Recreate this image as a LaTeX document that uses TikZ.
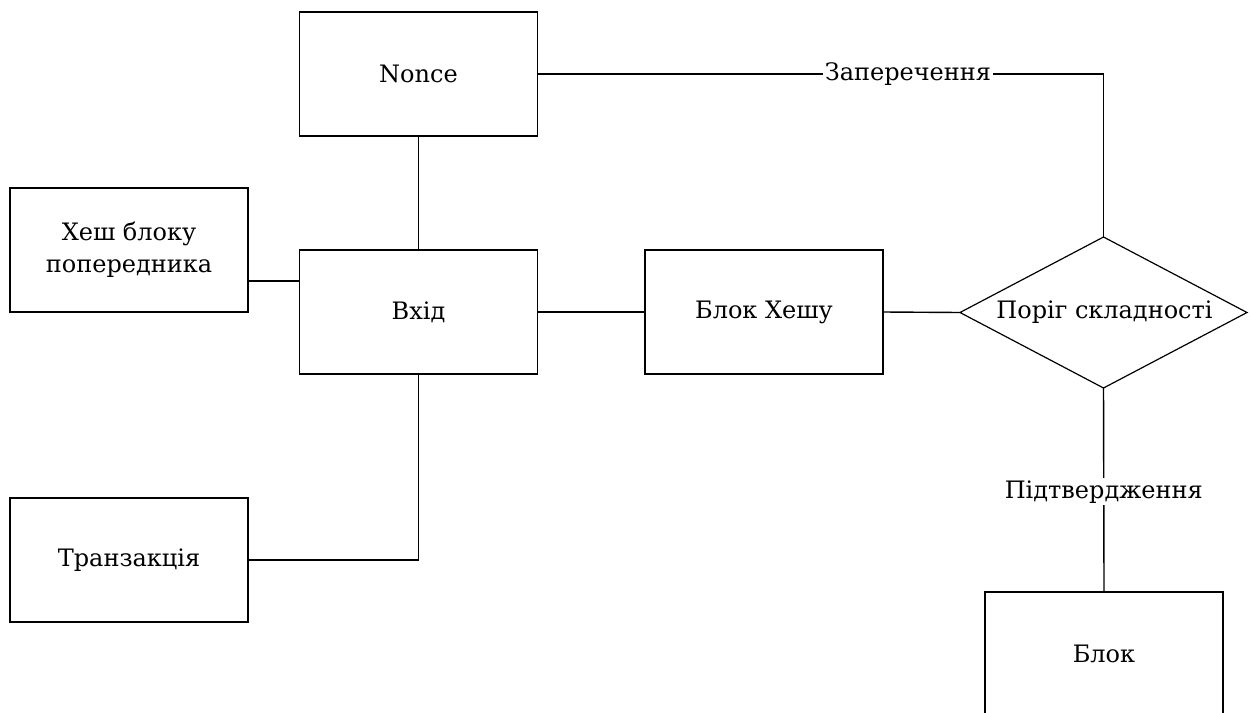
\documentclass[tikz,border=0pt]{standalone}
\usepackage{fontspec}
\setmainfont{DejaVu Serif}
\usetikzlibrary{calc}

\begin{document}
\begin{tikzpicture}[x=0.5pt,y=-0.5pt,
  every node/.style={font=\fontsize{12}{16}\selectfont},
  box/.style={draw,line width=0.7pt,minimum width=119pt,minimum height=62pt,inner sep=2pt,align=center},
  link/.style={line width=0.7pt},
  lbl/.style={fill=white,inner sep=1pt}]
  \useasboundingbox (0,0) rectangle (1251,712);

  % blocks
  \node[box] (nonce) at (418.5,74) {Nonce};
  \node[box] (prev)  at (129,250) {Хеш блоку\\попередника};
  \node[box] (input) at (418.5,312) {Вхід};
  \node[box] (tx)    at (129,560) {Транзакція};
  \node[box] (hash)  at (764,312) {Блок Хешу};
  \node[box] (block) at (1104,654) {Блок};

  % decision rhombus
  \coordinate (diff-n) at (1103.5,237);
  \coordinate (diff-s) at (1103.5,388);
  \coordinate (diff-w) at (960,312.5);
  \coordinate (diff-e) at (1247,312.5);
  \draw[line width=0.6pt] (diff-n) -- (diff-e) -- (diff-s) -- (diff-w) -- cycle;
  \node (diff) at (1104.5,312.5) {Поріг складності};

  % connections
  \coordinate (prevjoin) at ($(prev.east)+(0,31)$);
  \draw[link] (nonce.east) -- node[lbl,pos=0.654] {Заперечення} (nonce.east -| diff-n) -- (diff-n);
  \draw[link] (nonce.south) -- (input.north);
  \draw[link] (prevjoin) -- (prevjoin -| input.west);
  \draw[link] (tx.east) -| (input.south);
  \draw[link] (input.east) -- (hash.west);
  \draw[link] (hash.east) -- (diff-w);
  \draw[link] (diff-s) -- node[lbl,pos=0.51] {Підтвердження} (block.north);
\end{tikzpicture}
\end{document}
